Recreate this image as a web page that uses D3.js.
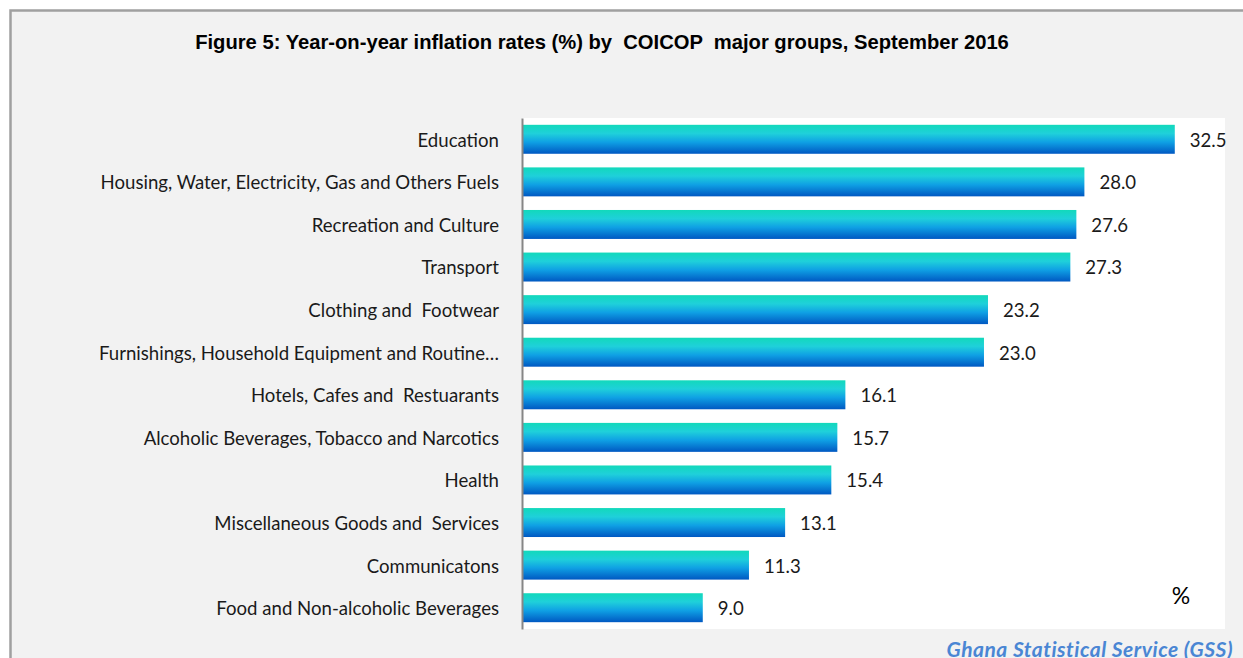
<!DOCTYPE html>
<html><head><meta charset="utf-8">
<script src="https://cdn.jsdelivr.net/npm/d3@7"></script>
<style>html,body{margin:0;padding:0;background:#fff;overflow:hidden}</style>
</head><body>
<svg id="chart" width="1243" height="658"></svg>
<script>
const categories = [
  "Education",
  "Housing, Water, Electricity, Gas and Others Fuels",
  "Recreation and Culture",
  "Transport",
  "Clothing and  Footwear",
  "Furnishings, Household Equipment and Routine…",
  "Hotels, Cafes and  Restuarants",
  "Alcoholic Beverages, Tobacco and Narcotics",
  "Health",
  "Miscellaneous Goods and  Services",
  "Communicatons",
  "Food and Non-alcoholic Beverages"
];
const values = [32.5, 28.0, 27.6, 27.3, 23.2, 23.0, 16.1, 15.7, 15.4, 13.1, 11.3, 9.0];
const xDomain = [0, 35];
const titleText = "Figure 5: Year-on-year inflation rates (%) by  COICOP  major groups, September 2016";
const unitText = "%";
const sourceText = "Ghana Statistical Service (GSS)";

const svg = d3.select("#chart");
const labelFont = "Lato, 'Open Sans', sans-serif";

// frame
svg.append("rect").attr("x", 10.5).attr("y", 10.5).attr("width", 1260).attr("height", 700)
  .attr("fill", "#f2f2f2").attr("stroke", "#a0a0a0").attr("stroke-width", 2.5);

const plot = {left: 522, right: 1225, top: 118, bottom: 629};
svg.append("rect").attr("x", plot.left).attr("y", plot.top)
  .attr("width", plot.right - plot.left).attr("height", plot.bottom - plot.top).attr("fill", "#fff");

const x = d3.scaleLinear().domain(xDomain).range([plot.left, plot.right]);
const y = d3.scaleBand().domain(categories).range([plot.top, plot.bottom]).paddingInner(0.32).paddingOuter(0.16);

const defs = svg.append("defs");
const grad = defs.append("linearGradient").attr("id", "barGrad").attr("x1", 0).attr("y1", 0).attr("x2", 0).attr("y2", 1);
[["0%", "#12d9bb"], ["30%", "#1fd0da"], ["60%", "#0fa0e4"], ["100%", "#0058c2"]].forEach(s =>
  grad.append("stop").attr("offset", s[0]).attr("stop-color", s[1]));

svg.append("g").selectAll("rect").data(categories).join("rect")
  .attr("x", x(0) + 1)
  .attr("y", d => y(d))
  .attr("width", (d, i) => x(values[i]) - x(0) - 1)
  .attr("height", y.bandwidth())
  .attr("fill", "url(#barGrad)");

// axis
const yAxis = d3.axisLeft(y).tickSize(0).tickPadding(23);
const ag = svg.append("g").attr("transform", `translate(${plot.left},0)`).call(yAxis);
ag.select(".domain").attr("stroke", "#868686").attr("stroke-width", 2);
ag.selectAll("text").attr("font-family", labelFont).attr("font-size", 18.6)
  .attr("dy", "0.4em").attr("fill", "#1a1a1a").style("white-space", "pre");

// value labels
svg.append("g").selectAll("text").data(categories).join("text")
  .attr("x", (d, i) => x(values[i]) + 15)
  .attr("y", d => y(d) + y.bandwidth() / 2)
  .attr("dy", "0.4em")
  .attr("font-family", labelFont).attr("font-size", 18.6).attr("fill", "#1a1a1a")
  .text((d, i) => values[i].toFixed(1));

// title
svg.append("text").attr("x", 602).attr("y", 49).attr("text-anchor", "middle")
  .attr("font-family", "'Liberation Sans', Arial, sans-serif").attr("font-weight", "bold")
  .attr("font-size", 20.2).attr("fill", "#000").style("white-space", "pre").text(titleText);

svg.append("text").attr("x", 1181).attr("y", 604).attr("text-anchor", "middle")
  .attr("font-family", labelFont).attr("font-size", 23).attr("fill", "#000").text(unitText);

svg.append("text").attr("x", 1233).attr("y", 657).attr("text-anchor", "end")
  .attr("font-family", labelFont).attr("font-style", "italic").attr("font-weight", "bold")
  .attr("font-size", 21).attr("letter-spacing", 0.5).attr("fill", "#4a86d4").text(sourceText);
</script>
</body></html>
